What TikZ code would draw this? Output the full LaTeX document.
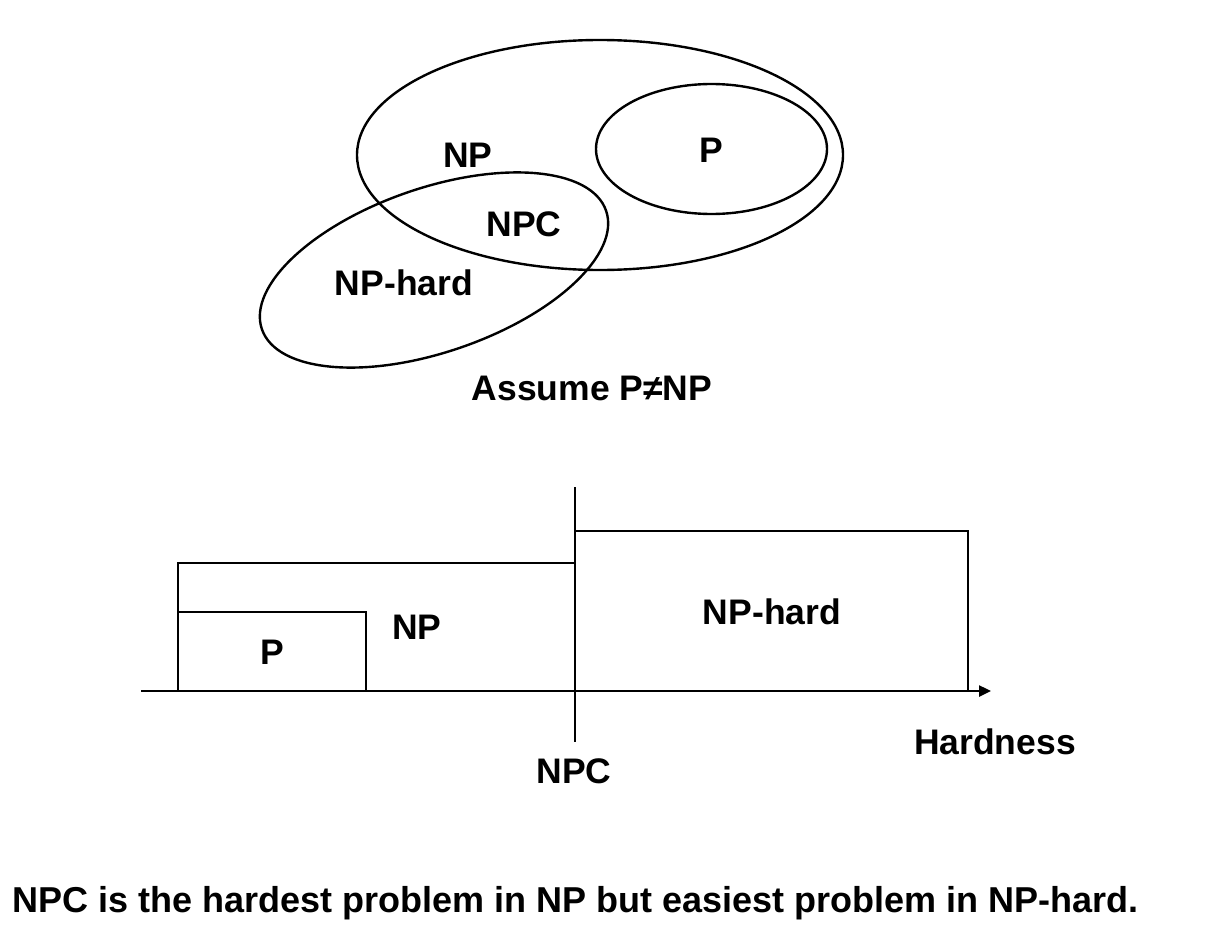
\documentclass[tikz,border=0pt]{standalone}
\usepackage{fontspec}
\setmainfont{Liberation Sans}
\usetikzlibrary{arrows.meta}
\tikzset{
  lbl/.style={font=\fontsize{35.5}{40}\selectfont\bfseries, inner sep=0pt, text height=25.4pt, text depth=0pt},
  ln/.style={line width=2.4pt, black},
}
\begin{document}
\begin{tikzpicture}[x=1pt,y=-1pt]
\useasboundingbox (0,0) rectangle (1207,950);
% Venn part
\draw[ln] (600,155) ellipse [x radius=243, y radius=115];
\draw[ln] (711.5,149) ellipse [x radius=115.5, y radius=65];
\draw[ln, rotate around={19:(434,270)}] (434,270) ellipse [x radius=182, y radius=82];
\node[lbl] (np1) at (468,155) {NP};
\node[lbl] (p1) at (711,150) {P};
\node[lbl] (npc1) at (524,224) {NPC};
\node[lbl] (nph1) at (404,283) {NP-hard};
\node[lbl] (assume) at (592,388) {Assume P≠NP};
% Bar part
\coordinate (axL) at (141,691);
\coordinate (axR) at (991,691);
\coordinate (vT) at (575,487);
\coordinate (vB) at (575,742);
\draw[ln] (178,691) rectangle (575,563);
\draw[ln] (178,691) rectangle (366,612);
\draw[ln] (575,691) rectangle (968,531);
\draw[ln, -{Triangle[length=12pt,width=11pt]}] (axL) -- (axR);
\draw[ln] (vT) -- (vB);
\node[lbl] (p2) at (272,652) {P};
\node[lbl] (np2) at (417,627) {NP};
\node[lbl] (nph2) at (772,612) {NP-hard};
\node[lbl] (hard) at (995,742) {Hardness};
\node[lbl] (npc2) at (574,771) {NPC};
\node[lbl, anchor=west, font=\fontsize{36}{40}\selectfont\bfseries] (sent) at (12,900) {NPC is the hardest problem in NP but easiest problem in NP-hard.};
\end{tikzpicture}
\end{document}
